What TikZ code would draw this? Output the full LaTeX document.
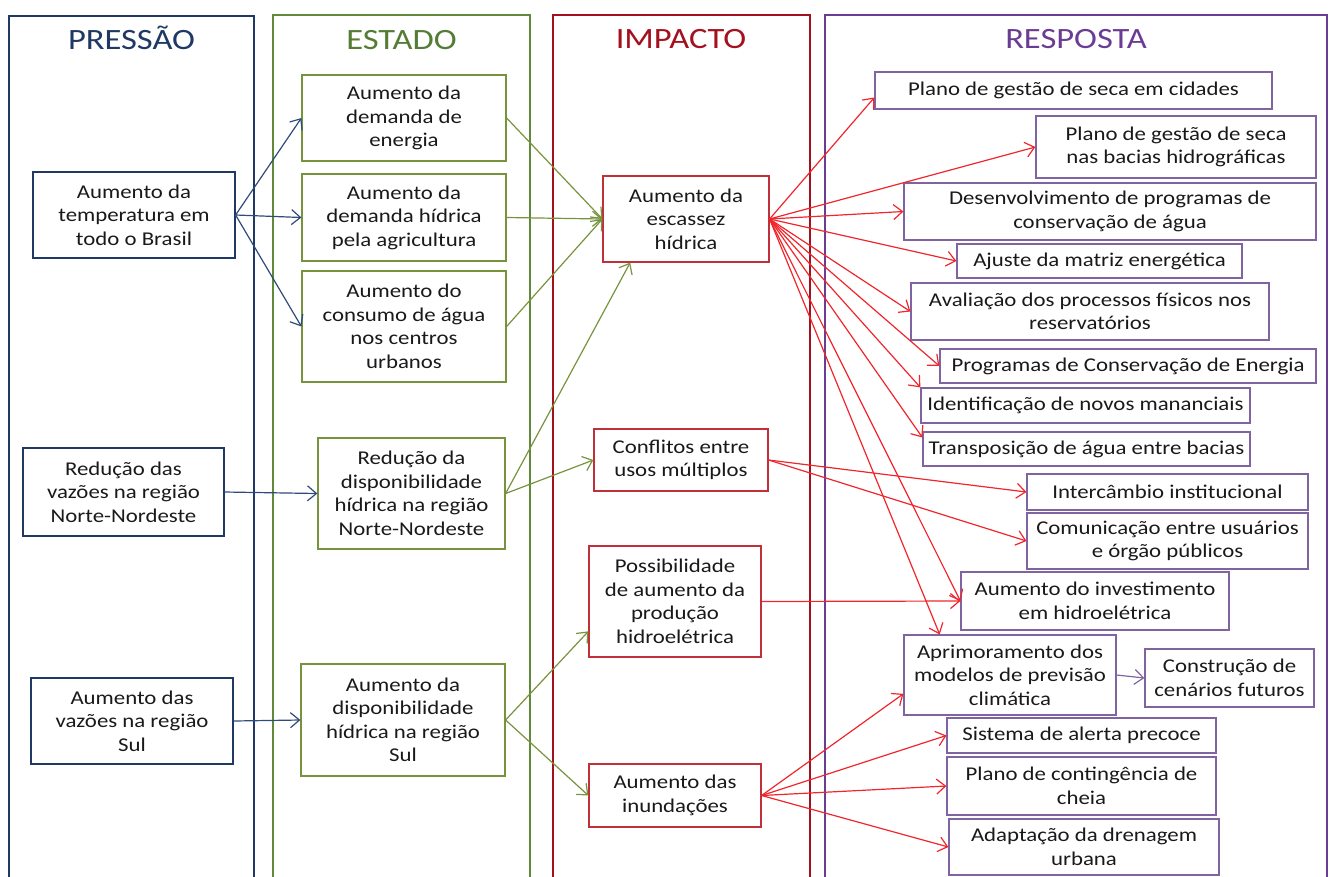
\documentclass[tikz,border=0pt]{standalone}
\usepackage{fontspec}
\setmainfont{Carlito}[FakeStretch=1.17]
\usetikzlibrary{arrows.meta}

\definecolor{azul}{HTML}{1F3864}
\definecolor{azulseta}{HTML}{2F4B7C}
\definecolor{verde}{HTML}{5E8A3A}
\definecolor{verdecaixa}{HTML}{77933C}
\definecolor{vermelho}{HTML}{A3101E}
\definecolor{vermelhocaixa}{HTML}{C0303A}
\definecolor{setavermelha}{HTML}{F0262C}
\definecolor{roxo}{HTML}{6A3C94}
\definecolor{roxocaixa}{HTML}{8064A2}

\begin{document}
\begin{tikzpicture}[x=1pt, y=-1pt,
coluna/.style={line width=2.4pt},
titulo/.style={anchor=base, font=\fontsize{29.5}{32}\selectfont},
caixa/.style={rectangle, draw, line width=1.2pt, align=center, inner sep=0pt, text=black!90, font=\fontsize{19.5}{23.5}\selectfont},
tam/.style 2 args={minimum width=#1pt, minimum height=#2pt},
pressao/.style={caixa, draw=azul},
estado/.style={caixa, draw=verdecaixa},
impacto/.style={caixa, draw=vermelhocaixa},
resposta/.style={caixa, draw=roxocaixa},
seta/.style={-{Straight Barb[length=9pt, width=15pt]}, line width=1.2pt},
]
\useasboundingbox (0,0) rectangle (1330,876);

\draw[coluna, azul] (9,890) -- (9,16) -- (254,16) -- (254,890);
\draw[coluna, verde] (273,890) -- (273,15) -- (530,15) -- (530,890);
\draw[coluna, vermelho] (553,890) -- (553,15) -- (810,15) -- (810,890);
\draw[coluna, roxo] (825,890) -- (825,15) -- (1327,15) -- (1327,890);

\node[titulo, text=azul] (tPressao) at (131.5,49) {PRESSÃO};
\node[titulo, text=verde!90!black] (tEstado) at (401.5,49) {ESTADO};
\node[titulo, text=vermelho] (tImpacto) at (681,48.5) {IMPACTO};
\node[titulo, text=roxo] (tResposta) at (1076,48.5) {RESPOSTA};

\node[pressao, tam={202}{86}] (temp) at (134,215) {Aumento da\\temperatura em\\todo o Brasil};
\node[pressao, tam={201}{88}] (vazoesNN) at (123.5,492) {Redução das\\vazões na região\\Norte-Nordeste};
\node[pressao, tam={202}{86}] (vazoesSul) at (132,721) {Aumento das\\vazões na região\\Sul};

\node[estado, tam={204}{86}] (demEnergia) at (404,118) {Aumento da\\demanda de\\energia};
\node[estado, tam={204}{87}] (demHidrica) at (404,217.5) {Aumento da\\demanda hídrica\\pela agricultura};
\node[estado, tam={204}{111}] (consumo) at (404,326.5) {Aumento do\\consumo de água\\nos centros\\urbanos};
\node[estado, tam={187}{111}] (dispNN) at (411.5,493.5) {Redução da\\disponibilidade\\hídrica na região\\Norte-Nordeste};
\node[estado, tam={204}{112}] (dispSul) at (403,720) {Aumento da\\disponibilidade\\hídrica na região\\Sul};

\node[impacto, tam={166}{86}] (escassez) at (686,219) {Aumento da\\escassez\\hídrica};
\node[impacto, tam={174}{62}] (conflitos) at (681,460) {Conflitos entre\\usos múltiplos};
\node[impacto, tam={172}{111}] (hidro) at (675,601.5) {Possibilidade\\de aumento da\\produção\\hidroelétrica};
\node[impacto, tam={172}{63}] (inundacoes) at (675,795.5) {Aumento das\\inundações};

\node[resposta, tam={397}{37}] (planoCidades) at (1073.5,90.5) {Plano de gestão de seca em cidades};
\node[resposta, tam={280}{62}] (planoBacias) at (1176,147) {Plano de gestão de seca\\nas bacias hidrográficas};
\node[resposta, tam={412}{57}] (programasAgua) at (1110,211.5) {Desenvolvimento de programas de\\conservação de água};
\node[resposta, tam={285}{34}] (matriz) at (1099.5,261) {Ajuste da matriz energética};
\node[resposta, tam={358}{57}] (avaliacao) at (1090,311.5) {Avaliação dos processos físicos nos\\reservatórios};
\node[resposta, tam={376}{34}] (consEnergia) at (1128,366) {Programas de Conservação de Energia};
\node[resposta, tam={329}{35}] (mananciais) at (1085.5,405.5) {Identificação de novos mananciais};
\node[resposta, tam={327}{34}] (transposicao) at (1086.5,449) {Transposição de água entre bacias};
\node[resposta, tam={281}{36}] (intercambio) at (1167.5,492) {Intercâmbio institucional};
\node[resposta, tam={281}{56}] (comunicacao) at (1167.5,541) {Comunicação entre usuários\\e órgão públicos};
\node[resposta, tam={268}{58}] (investimento) at (1095,601) {Aumento do investimento\\em hidroelétrica};
\node[resposta, tam={212}{80}] (modelos) at (1010,675) {Aprimoramento dos\\modelos de previsão\\climática};
\node[resposta, tam={169}{58}] (cenarios) at (1229.5,678) {Construção de\\cenários futuros};
\node[resposta, tam={269}{35}] (alerta) at (1081.5,735.5) {Sistema de alerta precoce};
\node[resposta, tam={269}{58}] (contingencia) at (1081.5,786) {Plano de contingência de\\cheia};
\node[resposta, tam={270}{56}] (drenagem) at (1084,847) {Adaptação da drenagem\\urbana};

\draw[seta, azulseta] (temp.east) -- (demEnergia.west);
\draw[seta, azulseta] (temp.east) -- (demHidrica.west);
\draw[seta, azulseta] (temp.east) -- (consumo.west);
\draw[seta, azulseta] (vazoesNN.east) -- (dispNN.west);
\draw[seta, azulseta] (vazoesSul.east) -- (dispSul.west);

\draw[seta, verdecaixa] (demEnergia.east) -- (escassez.west);
\draw[seta, verdecaixa] (demHidrica.east) -- (escassez.west);
\draw[seta, verdecaixa] (consumo.east) -- (escassez.west);
\draw[seta, verdecaixa] (dispNN.east) -- (escassez.218);
\draw[seta, verdecaixa] (dispNN.east) -- (conflitos.west);
\draw[seta, verdecaixa] (dispSul.east) -- (hidro.199);
\draw[seta, verdecaixa] (dispSul.east) -- (inundacoes.west);

\foreach \destino in {planoCidades.182, planoBacias.west, programasAgua.west, matriz.west,
    avaliacao.west, consEnergia.west, mananciais.north west, transposicao.176,
    investimento.west, modelos.150}
    \draw[seta, setavermelha] (escassez.east) -- (\destino);
\draw[seta, setavermelha] (conflitos.east) -- (intercambio.west);
\draw[seta, setavermelha] (conflitos.east) -- (comunicacao.west);
\draw[seta, setavermelha] (hidro.east) -- (investimento.west);
\foreach \destino in {modelos.190, alerta.west, contingencia.west, drenagem.west}
    \draw[seta, setavermelha] (inundacoes.east) -- (\destino);

\draw[seta, roxocaixa] (modelos.east) -- (cenarios.west);
\end{tikzpicture}
\end{document}
